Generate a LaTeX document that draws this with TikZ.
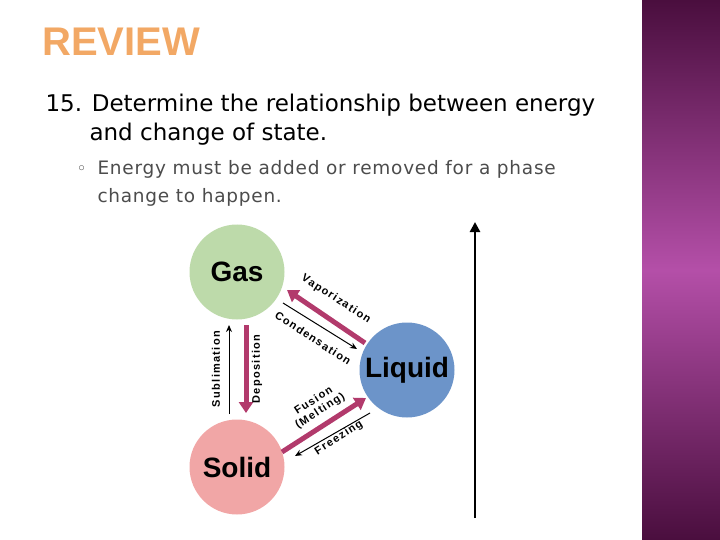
\documentclass[tikz,border=0pt]{standalone}
\usepackage{fontspec}
\setmainfont{DejaVu Sans}
\newfontfamily\arial{Liberation Sans}
\usetikzlibrary{arrows.meta}
\definecolor{gasc}{HTML}{BDDAAA}
\definecolor{liqc}{HTML}{6C94C9}
\definecolor{solc}{HTML}{F1A6A6}
\definecolor{mag}{HTML}{B23A6C}
\definecolor{pd}{HTML}{4A0E3E}
\definecolor{pm}{HTML}{B44FA8}
\definecolor{revc}{HTML}{F2A865}
\begin{document}
\begin{tikzpicture}[x=1pt,y=-1pt,
 st/.style={circle,minimum size=95pt,inner sep=0pt,font=\arial\bfseries\fontsize{28}{30}\selectfont},
 thick arr/.style={draw=mag,line width=5pt,-{Triangle[length=11pt,width=14pt]},fill=mag},
 thin arr/.style={draw=black,line width=1pt,-{Stealth[length=7pt,width=6pt]}},
 lab/.style={font=\arial\bfseries\fontsize{11}{12}\selectfont\addfontfeature{LetterSpace=12},align=center}]
\useasboundingbox (0,0) rectangle (720,540);
\shade[top color=pd,bottom color=pd,middle color=pm] (642,0) rectangle (720,540);
\node[anchor=west,text=revc,inner sep=0pt,font=\arial\bfseries\fontsize{40}{40}\selectfont] (title) at (42,42) {REVIEW};
\node[anchor=west,font=\fontsize{23}{26}\selectfont] (q1) at (42,105) {15. Determine the relationship between energy};
\node[anchor=west,font=\fontsize{23}{26}\selectfont] (q2) at (86,134) {and change of state.};
\node[anchor=west,text=black!70,font=\fontsize{17}{20}\selectfont] (b) at (73,170) {\textopenbullet};
\node[anchor=west,text=black!70,font=\fontsize{18.5}{20}\selectfont\addfontfeature{LetterSpace=4}] (a1) at (94,169) {Energy must be added or removed for a phase};
\node[anchor=west,text=black!70,font=\fontsize{18.5}{20}\selectfont\addfontfeature{LetterSpace=4}] (a2) at (94,197) {change to happen.};
\node[st,fill=gasc] (gas) at (237,272) {Gas};
\node[st,fill=liqc] (liq) at (407,370) {Liquid};
\node[st,fill=solc] (sol) at (237,467) {Solid};
\coordinate (e0) at (475,518); \coordinate (e1) at (475,222);
\draw[line width=2.5pt,-{Triangle[length=10pt,width=10pt]}] (e0) -- (e1);
\coordinate (v0) at (365,343); \coordinate (v1) at (287,290);
\draw[thick arr] (v0) -- (v1);
\coordinate (c0) at (283,303); \coordinate (c1) at (357,349);
\draw[thin arr] (c0) -- (c1);
\coordinate (d0) at (246,325); \coordinate (d1) at (246,413);
\draw[thick arr] (d0) -- (d1);
\coordinate (s0) at (229,414); \coordinate (s1) at (229,325);
\draw[thin arr] (s0) -- (s1);
\coordinate (f0) at (282,452); \coordinate (f1) at (366,398);
\draw[thick arr] (f0) -- (f1);
\coordinate (z0) at (370,413); \coordinate (z1) at (295,456);
\draw[thin arr] (z0) -- (z1);
\node[lab,rotate=-33] (lv) at (336,299) {Vaporization};
\node[lab,rotate=-33] (lc) at (313,338) {Condensation};
\node[lab,rotate=90] (ls) at (216,369) {Sublimation};
\node[lab,rotate=90] (ld) at (257,369) {Deposition};
\node[lab,rotate=33] (lf) at (317,406) {Fusion\\(Melting)};
\node[lab,rotate=33] (lz) at (339,438) {Freezing};
\end{tikzpicture}
\end{document}
